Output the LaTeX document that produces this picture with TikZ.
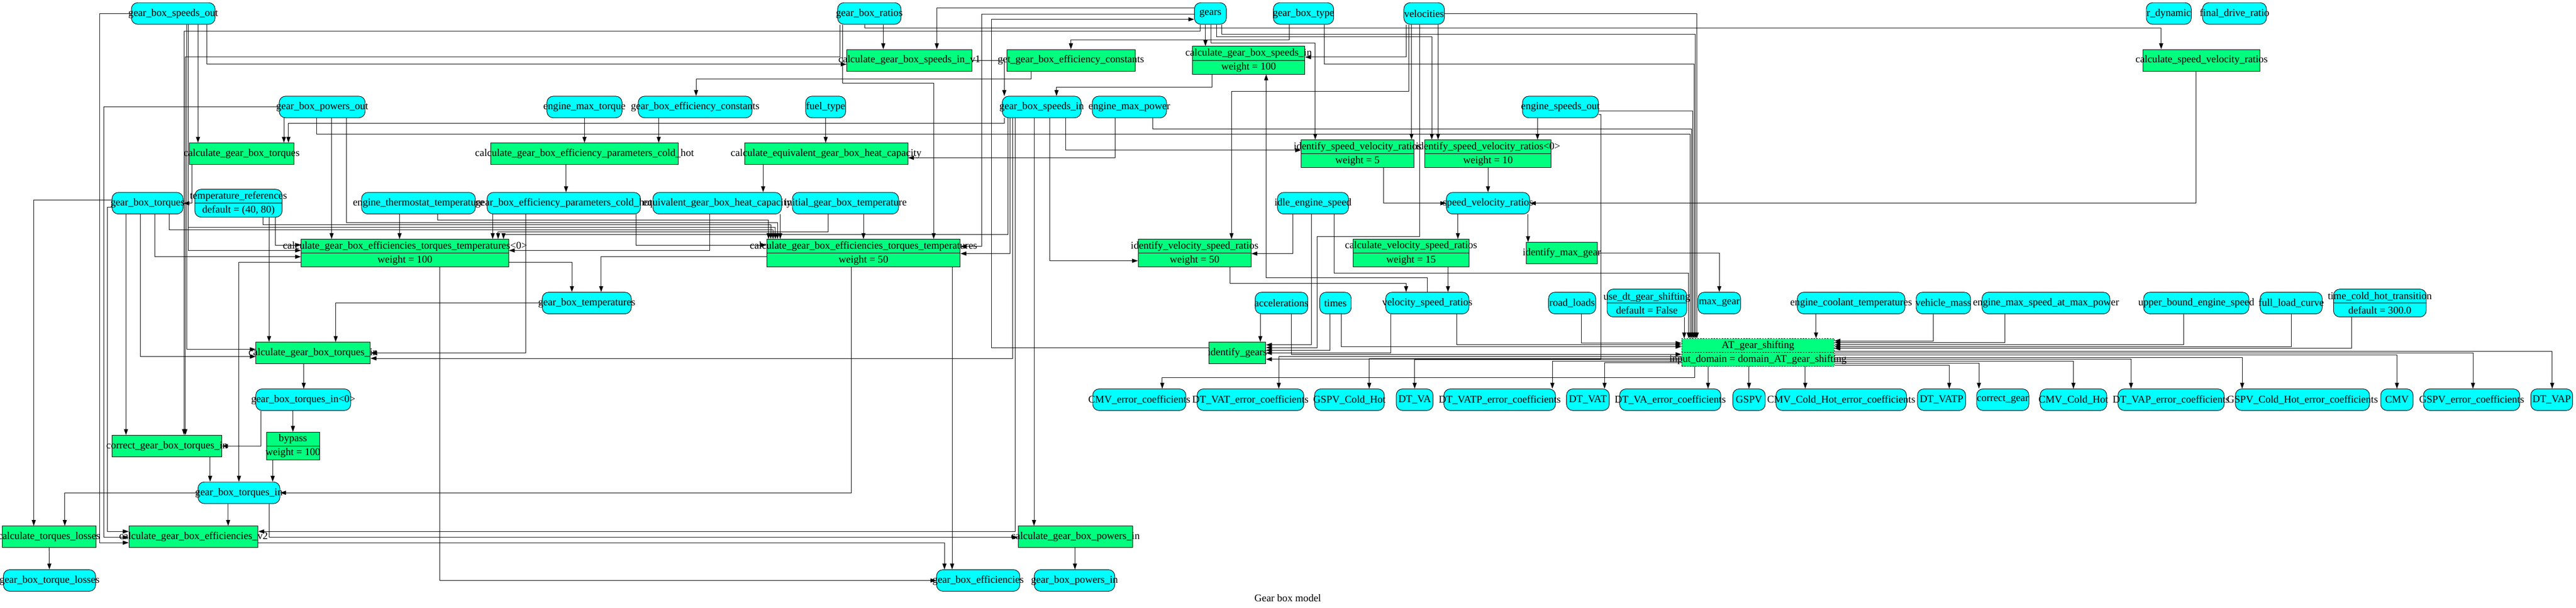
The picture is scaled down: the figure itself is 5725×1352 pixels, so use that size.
\documentclass[tikz,border=0pt]{standalone}
\usepackage{fontspec}
\setmainfont{Liberation Serif}
\usetikzlibrary{arrows.meta}
\definecolor{dcyan}{HTML}{00FFFF}
\definecolor{fgreen}{HTML}{00FF7F}
\newcommand{\lbx}[1]{\makebox[0pt]{#1}}
\tikzset{
 base/.style={draw=black, line width=1.1pt, inner sep=0pt, minimum height=48pt, font=\fontsize{23}{28}\selectfont, text=black},
 data/.style={base, fill=dcyan, rounded corners=14pt},
 func/.style={base, fill=fgreen},
 two/.style={minimum height=62pt, align=center, font=\fontsize{23}{31}\selectfont},
 e/.style={draw=black, line width=1.1pt, -{Triangle[length=13pt,width=9pt]}},
}
\newcommand{\dnode}[5]{\node[data,minimum width=#4pt] (#1) at (#2,#3) {\lbx{#5}};}
\newcommand{\fnode}[5]{\node[func,minimum width=#4pt] (#1) at (#2,#3) {\lbx{#5}};}
\newcommand{\dtwo}[6]{\node[data,two,minimum width=#4pt] (#1) at (#2,#3) {\lbx{#5}\\\lbx{#6}}; \draw[line width=1.1pt] (#1.west) -- (#1.east);}
\newcommand{\ftwo}[6]{\node[func,two,minimum width=#4pt] (#1) at (#2,#3) {\lbx{#5}\\\lbx{#6}}; \draw[line width=1.1pt] (#1.west) -- (#1.east);}
\begin{document}
\begin{tikzpicture}[x=1pt,y=-1pt]
\fill[white] (0,0) rectangle (5725,1352);
\useasboundingbox (0,0) rectangle (5725,1352);
% row 30
\dnode{gbso}{385}{30}{186}{gear\_box\_speeds\_out}
\dnode{gbr}{1932}{30}{141}{gear\_box\_ratios}
\dnode{gears}{2690}{30}{71}{gears}
\dnode{gbtype}{2897}{30}{134}{gear\_box\_type}
\dnode{vel}{3165}{30}{90}{velocities}
\dnode{rdyn}{4820}{30}{100}{r\_dynamic}
\dnode{fdr}{4966}{30}{142}{final\_drive\_ratio}
% row 134
\fnode{cgbsiv1}{2021}{134}{278}{calculate\_gear\_box\_speeds\_in\_v1}
\fnode{ggbec}{2380}{134}{285}{get\_gear\_box\_efficiency\_constants}
\ftwo{cgbsi}{2775}{134}{250}{calculate\_gear\_box\_speeds\_in}{weight = 100}
\fnode{csvr}{4893}{134}{260}{calculate\_speed\_velocity\_ratios}
% row 238
\dnode{gbpo}{716}{238}{191}{gear\_box\_powers\_out}
\dnode{emt}{1299}{238}{167}{engine\_max\_torque}
\dnode{gbec}{1545}{238}{253}{gear\_box\_efficiency\_constants}
\dnode{fuel}{1835}{238}{89}{fuel\_type}
\dnode{gbsi}{2315}{238}{175}{gear\_box\_speeds\_in}
\dnode{emp}{2510}{238}{165}{engine\_max\_power}
\dnode{eso}{3468}{238}{169}{engine\_speeds\_out}
% row 342
\fnode{cgbt}{537}{342}{232}{calculate\_gear\_box\_torques}
\fnode{cgbepch}{1299}{342}{417}{calculate\_gear\_box\_efficiency\_parameters\_cold\_hot}
\fnode{cegbhc}{1836}{342}{363}{calculate\_equivalent\_gear\_box\_heat\_capacity}
\ftwo{isvr}{3017}{342}{250}{identify\_speed\_velocity\_ratios}{weight = 5}
\ftwo{isvr0}{3307}{342}{281}{identify\_speed\_velocity\_ratios<0>}{weight = 10}
% row 452
\dnode{gbt}{328}{452}{158}{gear\_box\_torques}
\dtwo{tref}{530}{452}{194}{temperature\_references}{default = (40, 80)}
\dnode{ett}{930}{452}{253}{engine\_thermostat\_temperature}
\dnode{gbepch}{1253}{452}{341}{gear\_box\_efficiency\_parameters\_cold\_hot}
\dnode{egbhc}{1594}{452}{286}{equivalent\_gear\_box\_heat\_capacity}
\dnode{igbt}{1879}{452}{236}{initial\_gear\_box\_temperature}
\dnode{ies}{2918}{452}{158}{idle\_engine\_speed}
\dnode{svr}{3307}{452}{185}{speed\_velocity\_ratios}
% row 563
\ftwo{cgbett0}{900}{563}{461}{calculate\_gear\_box\_efficiencies\_torques\_temperatures<0>}{weight = 100}
\ftwo{cgbett}{1919}{563}{430}{calculate\_gear\_box\_efficiencies\_torques\_temperatures}{weight = 50}
\ftwo{ivsr}{2655}{563}{251}{identify\_velocity\_speed\_ratios}{weight = 50}
\ftwo{cvsr}{3136}{563}{258}{calculate\_velocity\_speed\_ratios}{weight = 15}
\fnode{imax}{3471}{563}{158}{identify\_max\_gear}
% row 674
\dnode{gbtemp}{1304}{674}{198}{gear\_box\_temperatures}
\dnode{acc}{2848}{674}{117}{accelerations}
\dnode{times}{2968}{674}{70}{times}
\dnode{vsr}{3172}{674}{185}{velocity\_speed\_ratios}
\dnode{rl}{3494}{674}{105}{road\_loads}
\dtwo{udt}{3660}{674}{177}{use\_dt\_gear\_shifting}{default = False}
\dnode{maxg}{3821}{674}{95}{max\_gear}
\dnode{ect}{4114}{674}{239}{engine\_coolant\_temperatures}
\dnode{vm}{4319}{674}{121}{vehicle\_mass}
\dnode{emsmp}{4547}{674}{284}{engine\_max\_speed\_at\_max\_power}
\dnode{ubes}{4881}{674}{234}{upper\_bound\_engine\_speed}
\dnode{flc}{5092}{674}{138}{full\_load\_curve}
\dtwo{tcht}{5289}{674}{206}{time\_cold\_hot\_transition}{default = 300.0}
% row 785
\fnode{cgbti}{696}{785}{254}{calculate\_gear\_box\_torques\_in}
\fnode{igears}{2750}{785}{126}{identify\_gears}
\node[func,two,dashed,minimum width=339pt] (atgs) at (3907,784) {\lbx{AT\_gear\_shifting}\\\lbx{input\_domain = domain\_AT\_gear\_shifting}};
\draw[line width=1.1pt,dashed] (atgs.west) -- (atgs.east);
% row 889
\dnode{gbti0}{674}{889}{211}{gear\_box\_torques\_in<0>}
\dnode{cmvec}{2532}{889}{207}{CMV\_error\_coefficients}
\dnode{dtvatec}{2779}{889}{237}{DT\_VAT\_error\_coefficients}
\dnode{gspvch}{2999}{889}{155}{GSPV\_Cold\_Hot}
\dnode{dtva}{3144}{889}{82}{DT\_VA}
\dnode{dtvatpec}{3333}{889}{248}{DT\_VATP\_error\_coefficients}
\dnode{dtvat}{3529}{889}{95}{DT\_VAT}
\dnode{dtvaec}{3712}{889}{225}{DT\_VA\_error\_coefficients}
\dnode{gspv}{3887}{889}{72}{GSPV}
\dnode{cmvchec}{4092}{889}{290}{CMV\_Cold\_Hot\_error\_coefficients}
\dnode{dtvatp}{4315}{889}{107}{DT\_VATP}
\dnode{cgear}{4451}{889}{116}{correct\_gear}
\dnode{cmvch}{4608}{889}{148}{CMV\_Cold\_Hot}
\dnode{dtvapec}{4825}{889}{236}{DT\_VAP\_error\_coefficients}
\dnode{gspvchec}{5117}{889}{298}{GSPV\_Cold\_Hot\_error\_coefficients}
\dnode{cmv}{5327}{889}{72}{CMV}
\dnode{gspvec}{5493}{889}{214}{GSPV\_error\_coefficients}
\dnode{dtvap}{5671}{889}{93}{DT\_VAP}
% lower rows
\fnode{cgbtin}{371}{992}{244}{correct\_gear\_box\_torques\_in}
\ftwo{bypass}{651}{992}{118}{bypass}{weight = 100}
\dnode{gbti}{531}{1096}{182}{gear\_box\_torques\_in}
\fnode{ctl}{109}{1194}{208}{calculate\_torques\_losses}
\fnode{cgbev2}{430}{1194}{287}{calculate\_gear\_box\_efficiencies\_v2}
\fnode{cgbpi}{2390}{1194}{254}{calculate\_gear\_box\_powers\_in}
\dnode{gbtl}{110}{1291}{205}{gear\_box\_torque\_losses}
\dnode{gbe}{2174}{1291}{185}{gear\_box\_efficiencies}
\dnode{gbpi}{2388}{1291}{179}{gear\_box\_powers\_in}
\node[font=\fontsize{23}{28}\selectfont] (title) at (2862,1330) {Gear box model};
% ---- edges ----
\draw[e] (gbso.south -| 460,0) |- (cgbsiv1.west |- 0,143);
\draw[e] (gbso.south -| 440,0) -- (cgbt.north -| 440,0);
\draw[e] (gbso.west) -| (222,1207) -- (cgbev2.west |- 0,1207);
\draw[e] (gbso.south -| 415,0) |- (cgbti.west |- 0,777);
\draw[e] (gbso.south -| 418,0) |- (cgbett0.west |- 0,557);
\draw[e] (gbso.south -| 418,0) |- (1723,505) -- (cgbett.north -| 1723,0);
\draw[e] (gbpo.south -| 631,0) -- (cgbt.north -| 631,0);
\draw[e] (gbpo.west) -| (231,1195) -- (cgbev2.west |- 0,1195);
\draw[e] (gbpo.south -| 737,0) -- (cgbett0.north -| 737,0);
\draw[e] (gbpo.south -| 770,0) |- (1728,495) -- (cgbett.north -| 1728,0);
\draw[e] (gbpo.south -| 703,0) |- (3756,298) -- (atgs.north -| 3756,0);
\draw[e] (gbsi.south -| 2232,0) |- (641,274) -- (cgbt.north -| 641,0);
\draw[e] (cgbsiv1.east) -| (gbsi.north -| 2232,0);
\draw[e] (cgbsi.south -| 2693,0) |- (2348,194) -- (gbsi.north -| 2348,0);
\draw[e] (gears.south -| 2679,0) -- (cgbsi.north -| 2679,0);
\draw[e] (gears.west |- 0,18) -| (cgbsiv1.north -| 2082,0);
\draw[e] (gears.west |- 0,31) -| (2182,548) -- (cgbett.east |- 0,548);
\draw[e] (igears.west |- 0,773) -| (2204,43) -- (gears.west |- 0,43);
\draw[e] (gears.south -| 2691,0) |- (2923,96) -- (isvr.north -| 2923,0);
\draw[e] (gears.south -| 2704,0) |- (3182,82) -- (isvr0.north -| 3182,0);
\draw[e] (gears.south -| 2715,0) |- (3768,76) -- (atgs.north -| 3768,0);
\draw[e] (gears.south -| 2667,0) |- (409,69) -- (cgbtin.north -| 409,0);
\draw[e] (gbr.south -| 1867,0) |- (412,127) -- (cgbtin.north -| 412,0);
\draw[e] (gbr.south -| 1963,0) -- (cgbsiv1.north -| 1963,0);
\draw[e] (gbr.south -| 1922,0) |- (4803,62) -- (csvr.north -| 4803,0);
\draw[e] (gbr.south -| 1873,0) |- (2075,185) -- (cgbett.north -| 2075,0);
\draw[e] (gbtype.south -| 2865,0) |- (2380,89) -- (ggbec.north);
\draw[e] (gbtype.south -| 2943,0) |- (3765,143) -- (atgs.north -| 3765,0);
\draw[e] (ggbec.south -| 2292,0) |- (1547,176) -- (gbec.north -| 1547,0);
\draw[e] (vel.south -| 3125,0) |- (cgbsi.east |- 0,127);
\draw[e] (vel.south -| 3131,0) |- (2737,203) -- (ivsr.north -| 2737,0);
\draw[e] (vel.south -| 3137,0) -- (isvr.north -| 3137,0);
\draw[e] (vel.south -| 3196,0) -- (isvr0.north -| 3196,0);
\draw[e] (vel.south -| 3155,0) |- (2927,526) |- (igears.east |- 0,773);
\draw[e] (vel.east) -| (atgs.north -| 3771,0);
\draw[e] (eso.south -| 3417,0) -- (isvr0.north -| 3417,0);
\draw[e] (eso.east |- 0,247) -| (atgs.north -| 3762,0);
\draw[e] (eso.east |- 0,255) -| (3558,799) -- (igears.east |- 0,799);
\draw[e] (emp.south -| 2478,0) |- (cegbhc.east |- 0,351);
\draw[e] (emp.south -| 2562,0) |- (3759,287) -- (atgs.north -| 3759,0);
\draw[e] (fuel) -- (cegbhc.north -| 1835,0);
\draw[e] (cegbhc.south -| 1696,0) -- (egbhc.north -| 1696,0);
\draw[e] (emt) -- (cgbepch.north -| 1299,0);
\draw[e] (gbec.south -| 1464,0) -- (cgbepch.north -| 1464,0);
\draw[e] (cgbepch.south -| 1258,0) -- (gbepch.north -| 1258,0);
\draw[e] (gbsi.south -| 2368,0) |- (isvr.west |- 0,334);
\draw[e] (gbsi.south -| 2333,0) |- (ivsr.west |- 0,580);
\draw[e] (gbsi.south -| 2245,0) |- (cgbett.east |- 0,564);
\draw[e] (gbsi.south -| 2240,0) |- (1119,521) -- (cgbett0.north -| 1119,0);
\draw[e] (gbsi.south -| 2251,0) |- (cgbti.east |- 0,797);
\draw[e] (gbsi.south -| 2256,0) |- (cgbev2.east |- 0,1182);
\draw[e] (gbsi.south -| 2298,0) -- (cgbpi.north -| 2298,0);
\draw[e] (gbt.west |- 0,445) -| (ctl.north -| 75,0);
\draw[e] (gbt.west |- 0,461) -| (239,1182) -- (cgbev2.west |- 0,1182);
\draw[e] (gbt.south -| 280,0) -- (cgbtin.north -| 280,0);
\draw[e] (gbt.south -| 312,0) |- (cgbti.west |- 0,793);
\draw[e] (gbt.south -| 344,0) |- (cgbett0.west |- 0,571);
\draw[e] (gbt.south -| 376,0) |- (1718,511) -- (cgbett.north -| 1718,0);
\draw[e] (cgbt.south -| 426,0) |- (gbt.east);
\draw[e] (tref.south -| 612,0) |- (cgbett0.west |- 0,545);
\draw[e] (tref.south -| 598,0) -- (cgbti.north -| 598,0);
\draw[e] (tref.south -| 584,0) |- (1713,500) -- (cgbett.north -| 1713,0);
\draw[e] (ett.south -| 888,0) -- (cgbett0.north -| 888,0);
\draw[e] (ett.south -| 973,0) |- (1708,489) -- (cgbett.north -| 1708,0);
\draw[e] (gbepch.south -| 1095,0) -- (cgbett0.north -| 1095,0);
\draw[e] (gbepch.south -| 1168,0) |- (cgbti.east |- 0,785);
\draw[e] (gbepch.south -| 1414,0) |- (cgbett.west |- 0,545);
\draw[e] (egbhc.south -| 1577,0) |- (cgbett0.east |- 0,557);
\draw[e] (egbhc.south -| 1734,0) -- (cgbett.north -| 1734,0);
\draw[e] (igbt.south -| 1840,0) |- (1107,516) -- (cgbett0.north -| 1107,0);
\draw[e] (igbt.south -| 1919,0) -- (cgbett.north -| 1919,0);
\draw[e] (cgbett0.east |- 0,583) -| (gbtemp.north -| 1271,0);
\draw[e] (cgbett.west |- 0,571) -| (gbtemp.north -| 1336,0);
\draw[e] (gbtemp.west) -| (cgbti.north -| 746,0);
\draw[e] (cgbett0.west |- 0,583) -| (gbti.north -| 531,0);
\draw[e] (cgbett0.south -| 977,0) |- (gbe.west);
\draw[e] (cgbti.south -| 675,0) -- (gbti0.north -| 675,0);
\draw[e] (cgbett.south -| 1892,0) |- (gbti.east);
\draw[e] (cgbett.south -| 2116,0) -- (gbe.north -| 2116,0);
\draw[e] (gbti0.south -| 651,0) -- (bypass.north -| 651,0);
\draw[e] (gbti0.south -| 580,0) |- (cgbtin.east);
\draw[e] (cgbtin.south -| 467,0) -- (gbti.north -| 467,0);
\draw[e] (bypass.south -| 606,0) -- (gbti.north -| 606,0);
\draw[e] (gbti.west) -| (ctl.north -| 144,0);
\draw[e] (gbti.south -| 507,0) -- (cgbev2.north -| 507,0);
\draw[e] (gbti.south -| 598,0) |- (cgbpi.west |- 0,1195);
\draw[e] (cgbev2.east |- 0,1207) -| (gbe.north -| 2099,0);
\draw[e] (ctl) -- (gbtl);
\draw[e] (cgbpi.south -| 2389,0) -- (gbpi.north -| 2389,0);
\draw[e] (csvr.south -| 4881,0) |- (svr.east);
\draw[e] (isvr0) -- (svr);
\draw[e] (isvr.south -| 3075,0) |- (svr.west);
\draw[e] (svr.south -| 3240,0) -- (cvsr.north -| 3240,0);
\draw[e] (svr.south -| 3396,0) -- (imax.north -| 3396,0);
\draw[e] (cvsr.south -| 3218,0) -- (vsr.north -| 3218,0);
\draw[e] (ivsr.south -| 2734,0) |- (3125,630) -- (vsr.north -| 3125,0);
\draw[e] (ies.south -| 2873,0) |- (ivsr.east |- 0,564);
\draw[e] (ies.south -| 2914,0) |- (igears.east |- 0,767);
\draw[e] (ies.south -| 2965,0) |- (3753,607) -- (atgs.north -| 3753,0);
\draw[e] (acc.south -| 2801,0) -- (igears.north -| 2801,0);
\draw[e] (acc.south -| 2870,0) |- (atgs.west |- 0,788);
\draw[e] (times.south -| 2956,0) |- (igears.east |- 0,779);
\draw[e] (times.south -| 2981,0) |- (atgs.west |- 0,771);
\draw[e] (vsr.south -| 3091,0) |- (igears.east |- 0,785);
\draw[e] (vsr.south -| 3237,0) |- (atgs.west |- 0,767);
\draw[e] (rl.south -| 3515,0) |- (atgs.west |- 0,763);
\draw[e] (vsr.north -| 3172,0) |- (2814,618) -- (cgbsi.south -| 2814,0);
\draw[e] (imax.east) -| (maxg.north);
\draw[e] (udt.south -| 3743,0) -- (atgs.north -| 3743,0);
\draw[e] (ect.south -| 4036,0) -- (atgs.north -| 4036,0);
\draw[e] (vm.south -| 4297,0) |- (atgs.east |- 0,758);
\draw[e] (emsmp.south -| 4456,0) |- (atgs.east |- 0,762);
\draw[e] (ubes.south -| 4853,0) |- (atgs.east |- 0,767);
\draw[e] (flc.south) |- (atgs.east |- 0,771);
\draw[e] (tcht.south -| 5226,0) |- (atgs.east |- 0,775);
\draw[e] (atgs.south -| 3766,0) |- (2583,840) -- (cmvec.north -| 2583,0);
\draw[e] (atgs.west |- 0,793) -| (dtvatec.north -| 2842,0);
\draw[e] (atgs.west |- 0,797) -| (gspvch.north -| 3043,0);
\draw[e] (atgs.west |- 0,800) -| (dtva.north -| 3144,0);
\draw[e] (atgs.west |- 0,803) -| (dtvatpec.north -| 3450,0);
\draw[e] (atgs.west |- 0,807) -| (dtvat.north -| 3566,0);
\draw[e] (atgs.south -| 3796,0) -- (dtvaec.north -| 3796,0);
\draw[e] (atgs.south -| 3887,0) -- (gspv.north);
\draw[e] (atgs.south -| 4012,0) -- (cmvchec.north -| 4012,0);
\draw[e] (atgs.east |- 0,812) -| (dtvatp.north -| 4332,0);
\draw[e] (atgs.east |- 0,808) -| (cgear.north -| 4398,0);
\draw[e] (atgs.east |- 0,803) -| (cmvch.north -| 4608,0);
\draw[e] (atgs.east |- 0,799) -| (dtvapec.north -| 4736,0);
\draw[e] (atgs.east |- 0,795) -| (gspvchec.north -| 4983,0);
\draw[e] (atgs.east |- 0,789) -| (cmv.north -| 5327,0);
\draw[e] (atgs.east |- 0,785) -| (gspvec.north -| 5496,0);
\draw[e] (atgs.east |- 0,781) -| (dtvap.north -| 5672,0);
\end{tikzpicture}
\end{document}
